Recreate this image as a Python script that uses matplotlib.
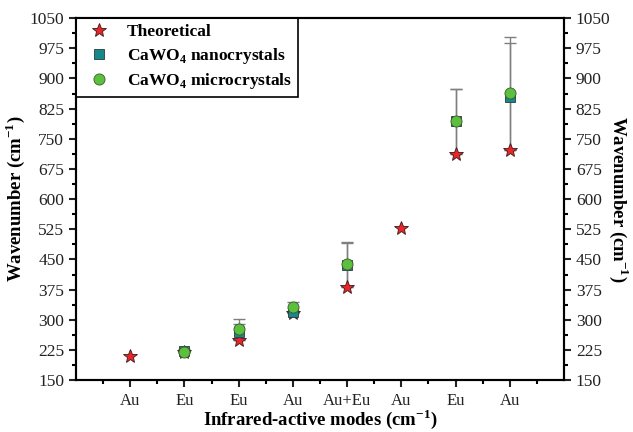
import numpy as np
import matplotlib
matplotlib.use('Agg')
import matplotlib.pyplot as plt

plt.rcParams['font.family'] = 'Liberation Serif'
plt.rcParams['mathtext.fontset'] = 'custom'
plt.rcParams['mathtext.rm'] = 'Liberation Serif'
plt.rcParams['mathtext.bf'] = 'Liberation Serif:bold'

# Data
modes = ['Au', 'Eu', 'Eu', 'Au', 'Au+Eu', 'Au', 'Eu', 'Au']
theoretical = [210, 219, 251, 318, 382, 529, 713, 722]
nano = [np.nan, 223, 270, 320, 437, np.nan, 794, 855]
micro = [np.nan, 220, 276, 331, 438, np.nan, 794, 863]

x = np.arange(1, len(modes) + 1)
theo = np.array(theoretical, dtype=float)
nano = np.array(nano, dtype=float)
micro = np.array(micro, dtype=float)

fig = plt.figure(figsize=(6.33, 4.32), dpi=100)
ax = fig.add_axes([0.12, 0.12, 0.771, 0.838])

# error bars: deviation from theoretical value
ax.errorbar(x, nano, yerr=np.abs(nano - theo), fmt='none', ecolor='#7f7f7f',
            elinewidth=1, capsize=4, capthick=1, zorder=1)
ax.errorbar(x, micro, yerr=np.abs(micro - theo), fmt='none', ecolor='#7f7f7f',
            elinewidth=1, capsize=4, capthick=1, zorder=1)

ax.plot(x, theo, linestyle='none', marker='*', markersize=10.5, color='#e8262a',
        markeredgecolor='#3a1a1a', markeredgewidth=0.6, label='Theoretical', zorder=3)
ax.plot(x, nano, linestyle='none', marker='s', markersize=7, color='#16878a',
        markeredgecolor='#2a3a3a', markeredgewidth=0.6,
        label=r'CaWO$_{\mathbf{4}}$ nanocrystals', zorder=4)
ax.plot(x, micro, linestyle='none', marker='o', markersize=8, color='#5cbf3e',
        markeredgecolor='#3a5a2a', markeredgewidth=0.6,
        label=r'CaWO$_{\mathbf{4}}$ microcrystals', zorder=5)

ax.set_xlim(0, 9)
ax.set_ylim(150, 1050)
ax.set_xticks(x)
ax.set_xticklabels(modes)
ax.set_xticks(np.arange(0.5, 9, 1), minor=True)
ax.set_yticks(np.arange(150, 1051, 75))
ax.set_yticks(np.arange(187.5, 1050, 75), minor=True)

for s in ax.spines.values():
    s.set_linewidth(1.5)

ax.tick_params(axis='both', which='major', direction='out', length=5, width=1.5,
               labelsize=12.5, colors='#222222')
ax.tick_params(axis='both', which='minor', direction='out', length=3, width=1.5)
ax.tick_params(axis='x', which='both', top=False)
ax.tick_params(axis='x', which='major', labelsize=12, pad=4)

ax.set_xlabel(r'Infrared-active modes (cm$^{\mathbf{-1}}$)', fontsize=13.5,
              fontweight='bold', labelpad=-1)
ax.set_ylabel(r'Wavenumber (cm$^{\mathbf{-1}}$)', fontsize=13.5, fontweight='bold',
              labelpad=2)

ax2 = ax.twinx()
ax2.set_ylim(150, 1050)
ax2.set_yticks(np.arange(150, 1051, 75))
ax2.set_yticks(np.arange(187.5, 1050, 75), minor=True)
ax2.tick_params(axis='y', which='major', direction='out', length=5, width=1.5,
                labelsize=12.5, colors='#222222')
ax2.tick_params(axis='y', which='minor', direction='out', length=3, width=1.5)
ax2.set_ylabel(r'Wavenumber (cm$^{\mathbf{-1}}$)', fontsize=13.5, fontweight='bold',
               rotation=270, labelpad=15)
for s in ax2.spines.values():
    s.set_linewidth(1.5)

leg = ax.legend(loc='upper left', bbox_to_anchor=(0, 1), borderaxespad=0,
                prop={'weight': 'bold', 'size': 12.5}, fancybox=False,
                edgecolor='black', framealpha=1, handletextpad=0.7,
                labelspacing=0.3, borderpad=0.35, handlelength=1.9)
leg.get_frame().set_linewidth(1.2)

fig.savefig('out.png', dpi=100)
